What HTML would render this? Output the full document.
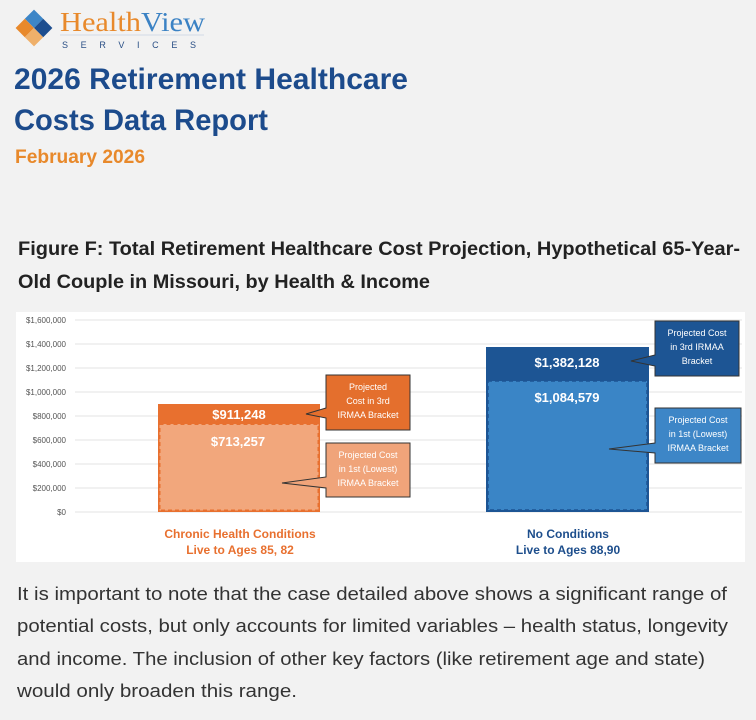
<!DOCTYPE html>
<html><head><meta charset="utf-8"><style>
html,body{margin:0;padding:0;background:#f2f2f2;}
svg{display:block;}
</style></head><body>
<svg width="756" height="720" viewBox="0 0 756 720" xmlns="http://www.w3.org/2000/svg">
<rect width="756" height="720" fill="#f2f2f2"/>
<!-- logo -->
<g transform="translate(34,28) rotate(45)">
<rect x="-13" y="-13" width="13" height="13" fill="#3d86c7"/>
<rect x="0" y="-13" width="13" height="13" fill="#1d4e8f"/>
<rect x="-13" y="0" width="13" height="13" fill="#e8892b"/>
<rect x="0" y="0" width="13" height="13" fill="#efb06a"/>
</g>
<text x="60" y="31" font-family="Liberation Serif, serif" font-size="27" textLength="145" lengthAdjust="spacingAndGlyphs"><tspan fill="#e8892b">Health</tspan><tspan fill="#3b82c4">View</tspan></text>
<line x1="60" y1="35" x2="204" y2="35" stroke="#c8d3e0" stroke-width="0.8"/>
<text x="62" y="48" font-family="Liberation Sans, sans-serif" font-size="9" fill="#2a4f85" textLength="134">SERVICES</text>
<text x="14" y="89" font-family="Liberation Sans, sans-serif" font-size="30" font-weight="bold" fill="#1c4b8c" textLength="394" lengthAdjust="spacingAndGlyphs">2026 Retirement Healthcare</text>
<text x="14" y="130" font-family="Liberation Sans, sans-serif" font-size="30" font-weight="bold" fill="#1c4b8c" textLength="254" lengthAdjust="spacingAndGlyphs">Costs Data Report</text>
<text x="15" y="163" font-family="Liberation Sans, sans-serif" font-size="19" font-weight="bold" fill="#e8892b" textLength="130" lengthAdjust="spacingAndGlyphs">February 2026</text>
<text x="18" y="255" font-family="Liberation Sans, sans-serif" font-size="19" font-weight="bold" fill="#222" textLength="722" lengthAdjust="spacingAndGlyphs">Figure F: Total Retirement Healthcare Cost Projection, Hypothetical 65-Year-</text>
<text x="18" y="288" font-family="Liberation Sans, sans-serif" font-size="19" font-weight="bold" fill="#222" textLength="412" lengthAdjust="spacingAndGlyphs">Old Couple in Missouri, by Health &amp; Income</text>
<!-- chart -->
<rect x="16" y="312" width="729" height="250" fill="#ffffff"/>
<g font-family="Liberation Sans, sans-serif" font-size="8" fill="#555" text-anchor="end">
<g stroke="#e3e3e3" stroke-width="1">
<line x1="75" y1="320" x2="742" y2="320"/><line x1="75" y1="344" x2="742" y2="344"/>
<line x1="75" y1="368" x2="742" y2="368"/><line x1="75" y1="392" x2="742" y2="392"/>
<line x1="75" y1="416" x2="742" y2="416"/><line x1="75" y1="440" x2="742" y2="440"/>
<line x1="75" y1="464" x2="742" y2="464"/><line x1="75" y1="488" x2="742" y2="488"/>
<line x1="75" y1="512" x2="742" y2="512"/>
</g>
<text x="66" y="323">$1,600,000</text><text x="66" y="347">$1,400,000</text>
<text x="66" y="371">$1,200,000</text><text x="66" y="395">$1,000,000</text>
<text x="66" y="419">$800,000</text><text x="66" y="443">$600,000</text>
<text x="66" y="467">$400,000</text><text x="66" y="491">$200,000</text>
<text x="66" y="515">$0</text>
</g>
<!-- orange bar -->
<rect x="158" y="404" width="162" height="108" fill="#e8702f"/>
<rect x="159.5" y="424" width="159" height="86.5" fill="#f2a77c" stroke="#e8702f" stroke-width="2" stroke-dasharray="4,3"/>
<g font-family="Liberation Sans, sans-serif" font-weight="bold" fill="#fff" text-anchor="middle" font-size="13">
<text x="239" y="419">$911,248</text>
<text x="238" y="446">$713,257</text>
</g>
<!-- orange callouts -->
<path d="M326,375 H410 V430 H326 V418 L306,414 L326,408 Z" fill="#e46f2d" stroke="#333" stroke-width="1"/>
<path d="M326,443 H410 V497 H326 V488 L282,483 L326,477 Z" fill="#f0a47a" stroke="#333" stroke-width="1"/>
<g font-family="Liberation Sans, sans-serif" font-size="9" fill="#fff" text-anchor="middle">
<text x="368" y="390">Projected</text><text x="368" y="404">Cost in 3rd</text><text x="368" y="418">IRMAA Bracket</text>
<text x="368" y="458">Projected Cost</text><text x="368" y="472">in 1st (Lowest)</text><text x="368" y="486">IRMAA Bracket</text>
</g>
<!-- blue bar -->
<rect x="486" y="347" width="163" height="165" fill="#1d5594"/>
<rect x="488" y="381" width="159" height="129" fill="#3a85c6" stroke="#1d5594" stroke-width="1.5" stroke-dasharray="4,3"/>
<g font-family="Liberation Sans, sans-serif" font-weight="bold" fill="#fff" text-anchor="middle" font-size="13">
<text x="567" y="367">$1,382,128</text>
<text x="567" y="402">$1,084,579</text>
</g>
<path d="M655,321 H739 V376 H655 V366 L631,361 L655,355 Z" fill="#1d5594" stroke="#333" stroke-width="1"/>
<path d="M655,408 H741 V463 H655 V453 L609,449 L655,443 Z" fill="#3d86c7" stroke="#333" stroke-width="1"/>
<g font-family="Liberation Sans, sans-serif" font-size="9" fill="#fff" text-anchor="middle">
<text x="697" y="336">Projected Cost</text><text x="697" y="350">in 3rd IRMAA</text><text x="697" y="364">Bracket</text>
<text x="698" y="423">Projected Cost</text><text x="698" y="437">in 1st (Lowest)</text><text x="698" y="451">IRMAA Bracket</text>
</g>
<!-- category labels -->
<g font-family="Liberation Sans, sans-serif" font-weight="bold" font-size="12" text-anchor="middle">
<text x="240" y="538" fill="#e8702f">Chronic Health Conditions</text>
<text x="240" y="554" fill="#e8702f">Live to Ages 85, 82</text>
<text x="568" y="538" fill="#1d4e8c">No Conditions</text>
<text x="568" y="554" fill="#1d4e8c">Live to Ages 88,90</text>
</g>
<!-- paragraph -->
<g font-family="Liberation Sans, sans-serif" font-size="18" fill="#333">
<text x="17" y="600" textLength="710" lengthAdjust="spacingAndGlyphs">It is important to note that the case detailed above shows a significant range of</text>
<text x="17" y="632" textLength="711" lengthAdjust="spacingAndGlyphs">potential costs, but only accounts for limited variables – health status, longevity</text>
<text x="17" y="665" textLength="688" lengthAdjust="spacingAndGlyphs">and income. The inclusion of other key factors (like retirement age and state)</text>
<text x="17" y="697" textLength="280" lengthAdjust="spacingAndGlyphs">would only broaden this range.</text>
</g>
</svg>
</body></html>
